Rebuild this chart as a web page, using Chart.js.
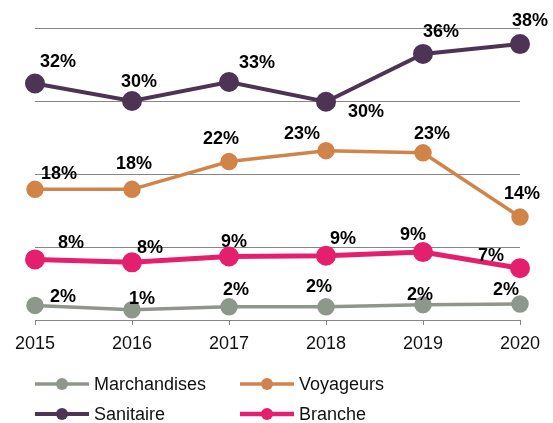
<!DOCTYPE html>
<html>
<head>
<meta charset="utf-8">
<script src="https://cdn.jsdelivr.net/npm/chart.js@4/dist/chart.umd.min.js"></script>
<style>
html,body{margin:0;padding:0;background:#fff;}
#wrap{width:553px;height:423px;position:relative;}
</style>
</head>
<body>
<div id="wrap"><canvas id="c" width="553" height="423"></canvas></div>
<script>
const years = ['2015', '2016', '2017', '2018', '2019', '2020'];
const marchandises = [2.0, 1.4, 1.8, 1.8, 2.1, 2.2];
const voyageurs = [17.9, 17.9, 21.7, 23.2, 22.9, 14.1];
const sanitaire = [32.4, 30.0, 32.6, 29.9, 36.45, 37.8];
const branche = [8.3, 7.9, 8.7, 8.8, 9.3, 7.1];
const seriesNames = ['Marchandises', 'Voyageurs', 'Sanitaire', 'Branche'];

// label offsets (style only): [dx, dy] per point per series
const labelOffsets = [
  [[28,-8],[10,-11],[7,-17],[-7,-20],[-3,-10],[-14,-14]],
  [[24,-15],[2,-25],[-8,-23],[-24,-17],[9,-19],[2,-23]],
  [[23,-21],[7,-19],[28,-19],[40,10],[18,-22],[10,-23]],
  [[36,-16],[18,-14],[5,-14],[17,-17],[-10,-17],[-29,-12]]
];

const colors = ['#8E978C', '#D08449', '#4D3454', '#E4206E'];
const widths = [3.5, 3.5, 4, 5];
const radii = [7, 7, 8, 7.5];

const labelPlugin = {
  id: 'valueLabels',
  afterDatasetsDraw(chart) {
    const ctx = chart.ctx;
    ctx.save();
    ctx.font = 'bold 18px "Liberation Sans", Arial, sans-serif';
    ctx.fillStyle = '#000';
    ctx.textAlign = 'center';
    ctx.textBaseline = 'middle';
    chart.data.datasets.forEach((ds, di) => {
      const meta = chart.getDatasetMeta(di);
      meta.data.forEach((pt, i) => {
        const off = labelOffsets[di][i];
        ctx.fillText(Math.round(ds.data[i]) + '%', pt.x + off[0], pt.y + off[1]);
      });
    });
    ctx.restore();
  }
};

const legendPlugin = {
  id: 'customLegend',
  afterDraw(chart) {
    const ctx = chart.ctx;
    const pos = [[35, 384], [240, 384], [35, 414], [240, 414]];
    ctx.save();
    ctx.font = '18px "Liberation Sans", Arial, sans-serif';
    ctx.textBaseline = 'middle';
    ctx.textAlign = 'left';
    chart.data.datasets.forEach((ds, i) => {
      const [x, y] = pos[i];
      ctx.strokeStyle = ds.borderColor;
      ctx.lineWidth = Math.min(ds.borderWidth, 4.5);
      ctx.beginPath();
      ctx.moveTo(x, y);
      ctx.lineTo(x + 54, y);
      ctx.stroke();
      ctx.fillStyle = ds.borderColor;
      ctx.beginPath();
      ctx.arc(x + 27, y, 6, 0, Math.PI * 2);
      ctx.fill();
      ctx.fillStyle = '#111';
      ctx.fillText(ds.label, x + 59, y + 1);
    });
    ctx.restore();
  }
};

const seriesData = [marchandises, voyageurs, sanitaire, branche];

new Chart(document.getElementById('c'), {
  type: 'line',
  data: {
    labels: years,
    datasets: seriesNames.map((name, i) => ({
      label: name,
      data: seriesData[i],
      borderColor: colors[i],
      backgroundColor: colors[i],
      pointBackgroundColor: colors[i],
      pointBorderColor: colors[i],
      borderWidth: widths[i],
      pointRadius: radii[i],
      pointHoverRadius: radii[i],
      tension: 0,
      fill: false
    }))
  },
  options: {
    responsive: false,
    animation: false,
    events: [],
    layout: { padding: { left: 35, right: 33, top: 28, bottom: 73 } },
    plugins: { legend: { display: false }, tooltip: { enabled: false } },
    scales: {
      x: {
        offset: false,
        grid: { display: true, drawOnChartArea: false, drawTicks: true, tickLength: 5, color: '#858585' },
        border: { display: true, color: '#858585', width: 1 },
        ticks: { color: '#111', font: { size: 18, family: '"Liberation Sans", Arial, sans-serif' }, padding: 8, maxRotation: 0 },
        afterFit(scale) { scale.height = 30; }
      },
      y: {
        min: 0, max: 40,
        ticks: { display: false, stepSize: 10 },
        grid: { color: '#858585', drawTicks: false, lineWidth: 1 },
        border: { display: false },
        afterFit(scale) { scale.width = 0; }
      }
    }
  },
  plugins: [labelPlugin, legendPlugin]
});
</script>
</body>
</html>
